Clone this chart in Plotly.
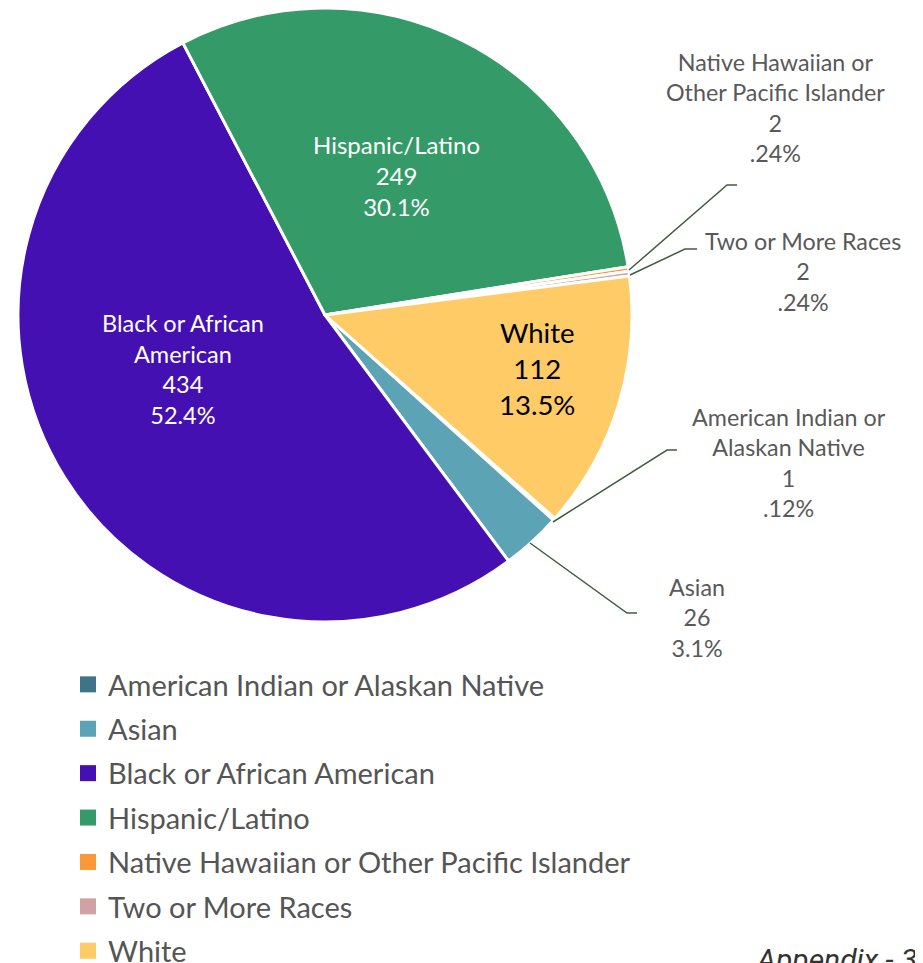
import plotly.graph_objects as go

W, H = 923, 963
OFF = 8  # page body margin offset

categories = ["American Indian or Alaskan Native", "Asian", "Black or African American",
              "Hispanic/Latino", "Native Hawaiian or Other Pacific Islander",
              "Two or More Races", "White"]
counts = [1, 26, 434, 249, 2, 2, 112]
pct_labels = [".12%", "3.1%", "52.4%", "30.1%", ".24%", ".24%", "13.5%"]
slice_titles = ["American Indian or<br>Alaskan Native", "Asian", "Black or African<br>American",
                "Hispanic/Latino", "Native Hawaiian or<br>Other Pacific Islander",
                "Two or More Races", "White"]
colors = ["#3d7487", "#5ca3b6", "#4510b2", "#349a68", "#fb9837", "#cfa3a3", "#ffcb66"]

FONT = "Lato"

def px(x):
    return (x - OFF) / W

def py(y):
    return 1 - (y - OFF) / H

fig = go.Figure()
fig.add_trace(go.Pie(
    labels=categories, values=counts, sort=False, direction="clockwise",
    rotation=131.5, marker=dict(colors=colors, line=dict(color="white", width=3)),
    textinfo="none", textposition="none", hoverinfo="label+value", showlegend=False,
    domain=dict(x=[px(18), px(632)], y=[py(622), 1]),
))

# legend entries
for i, (c, col) in enumerate(zip(categories, colors)):
    fig.add_trace(go.Scatter(x=[None], y=[None], mode="markers", name=c,
                             marker=dict(symbol="square", size=16, color=col),
                             legendgroup=f"g{i}", showlegend=True))

# slice labels: (index, center x px, center y px, font size, color)
label_pos = {
    3: (396, 175, 24, "white"),
    2: (183, 369, 23.5, "white"),
    6: (537, 368, 27.5, "black"),
    4: (775, 108, 23.3, "#595959"),
    5: (803, 271, 23.3, "#595959"),
    0: (789, 462, 23.3, "#595959"),
    1: (697, 617, 23.3, "#595959"),
}
for i, (x, y, fs, col) in label_pos.items():
    txt = f"{slice_titles[i]}<br>{counts[i]}<br>{pct_labels[i]}"
    fig.add_annotation(x=px(x), y=py(y), xref="paper", yref="paper", text=txt,
                       showarrow=False, xanchor="center", yanchor="middle",
                       font=dict(family=FONT, size=fs, color=col), align="center")

# leader lines
leaders = [
    [(629, 270), (727, 185), (737, 185)],
    [(630, 275), (685, 249), (697, 249)],
    [(553, 522), (667, 450), (677, 450)],
    [(530, 543), (627, 613), (637, 613)],
]
for pts in leaders:
    path = "M " + " L ".join(f"{px(a):.5f},{py(b):.5f}" for a, b in pts)
    fig.add_shape(type="path", path=path, xref="paper", yref="paper",
                  line=dict(color="#3f5f3f", width=1.5))

fig.add_annotation(x=px(753), y=py(959), xref="paper", yref="paper", text="<i>Appendix - 3</i>",
                   showarrow=False, xanchor="left", yanchor="middle",
                   font=dict(family="Roboto", size=30, color="#333333"))

fig.update_layout(
    width=W, height=H, margin=dict(l=0, r=0, t=0, b=0, autoexpand=False),
    paper_bgcolor="white", plot_bgcolor="white",
    xaxis=dict(visible=False), yaxis=dict(visible=False),
    legend=dict(x=px(68), y=py(659), xanchor="left", yanchor="top",
                font=dict(family=FONT, size=29, color="#555555"),
                tracegroupgap=3.7, bgcolor="rgba(0,0,0,0)"),
    font=dict(family=FONT),
)

fig.write_html("out.html")
